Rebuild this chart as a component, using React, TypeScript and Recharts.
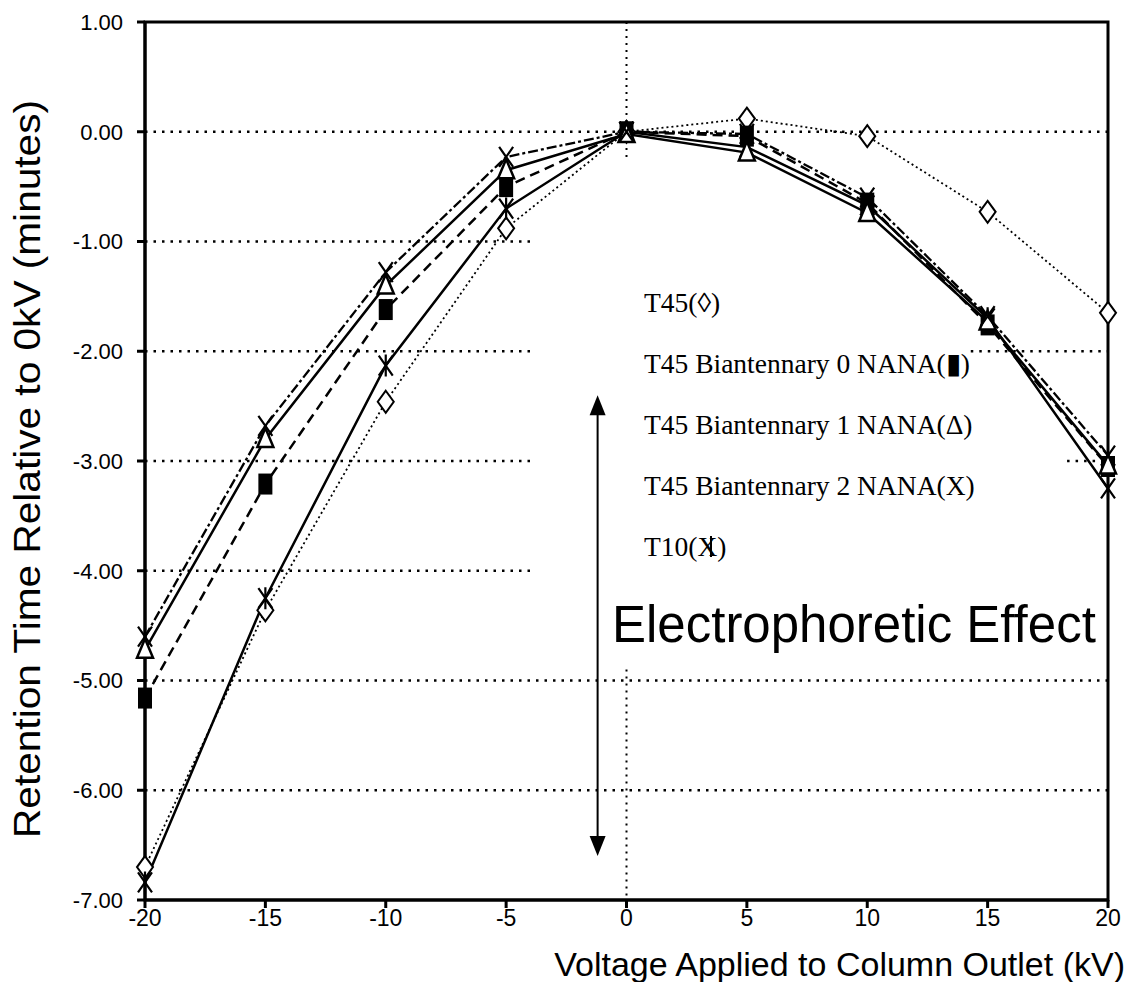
import React from "react";
import {
  LineChart,
  Line,
  XAxis,
  YAxis,
  ReferenceLine,
  ReferenceArea,
} from "recharts";

// kV applied at the column outlet
const voltages = [-20, -15, -10, -5, 0, 5, 10, 15, 20];

// retention time shift relative to 0 kV (minutes)
const t45 = [-6.7, -4.36, -2.46, -0.88, 0.0, 0.12, -0.04, -0.73, -1.65];
const bi0 = [-5.16, -3.21, -1.62, -0.5, 0.0, -0.04, -0.65, -1.76, -3.05];
const bi1 = [-4.72, -2.8, -1.4, -0.35, -0.02, -0.19, -0.74, -1.73, -3.04];
const bi2 = [-4.6, -2.68, -1.28, -0.23, 0.0, -0.02, -0.6, -1.68, -2.95];
const t10 = [-6.84, -4.25, -2.13, -0.7, 0.0, -0.14, -0.67, -1.7, -3.25];

const xTicks = [-20, -15, -10, -5, 0, 5, 10, 15, 20];
const yTicks = [1, 0, -1, -2, -3, -4, -5, -6, -7];

const legendLines = [
  "T45(\u25CA)",
  "T45 Biantennary 0 NANA(\u25AE)",
  "T45 Biantennary 1 NANA(\u0394)",
  "T45 Biantennary 2 NANA(X)",
  "T10(X)",
];

const data = voltages.map((v, i) => ({
  v,
  t45: t45[i],
  bi0: bi0[i],
  bi1: bi1[i],
  bi2: bi2[i],
  t10: t10[i],
}));

const sans = '"Liberation Sans", Arial, sans-serif';
const serif = '"Liberation Serif", "Times New Roman", serif';

// dotted grid, broken where the legend sits
const gridPieces = [
  [0, -20, 20],
  [-1, -20, -4],
  [-2, -20, -4],
  [-2, 14.3, 20],
  [-3, -20, -4],
  [-3, 18.3, 20],
  [-4, -20, -4],
  [-5, -20, 20],
  [-6, -20, 20],
];

const Diamond = (p: any) => {
  const { cx, cy, index } = p;
  if (cx == null || cy == null) return <g key={index} />;
  return (
    <path
      key={"d" + index}
      d={`M${cx},${cy - 11} L${cx + 8},${cy} L${cx},${cy + 11} L${cx - 8},${cy} Z`}
      fill="#fff"
      stroke="#000"
      strokeWidth={2}
    />
  );
};

const Square = (p: any) => {
  const { cx, cy, index } = p;
  if (cx == null || cy == null) return <g key={index} />;
  return <rect key={"s" + index} x={cx - 7} y={cy - 10.5} width={14} height={21} fill="#000" />;
};

const Triangle = (p: any) => {
  const { cx, cy, index } = p;
  if (cx == null || cy == null) return <g key={index} />;
  return (
    <path
      key={"t" + index}
      d={`M${cx},${cy - 11} L${cx + 8},${cy + 8} L${cx - 8},${cy + 8} Z`}
      fill="#fff"
      stroke="#000"
      strokeWidth={2.5}
    />
  );
};

const Cross = (p: any) => {
  const { cx, cy, index } = p;
  if (cx == null || cy == null) return <g key={index} />;
  return (
    <path
      key={"x" + index}
      d={`M${cx - 7},${cy - 10} L${cx + 7},${cy + 10} M${cx + 7},${cy - 10} L${cx - 7},${cy + 10}`}
      stroke="#000"
      strokeWidth={2.2}
      fill="none"
    />
  );
};

const Star = (p: any) => {
  const { cx, cy, index } = p;
  if (cx == null || cy == null) return <g key={index} />;
  return (
    <path
      key={"k" + index}
      d={`M${cx - 7},${cy - 10} L${cx + 7},${cy + 10} M${cx + 7},${cy - 10} L${cx - 7},${cy + 10} M${cx},${cy - 11} L${cx},${cy + 11}`}
      stroke="#000"
      strokeWidth={2.2}
      fill="none"
    />
  );
};

const Arrow = (p: any) => {
  const { x1, y1, x2, y2 } = p;
  if (x1 == null) return null;
  const top = Math.min(y1, y2);
  const bot = Math.max(y1, y2);
  return (
    <g>
      <line x1={x1} y1={top + 16} x2={x1} y2={bot - 16} stroke="#000" strokeWidth={2} />
      <path d={`M${x1},${top} L${x1 + 8},${top + 20} L${x1 - 8},${top + 20} Z`} fill="#000" />
      <path d={`M${x1},${bot} L${x1 + 8},${bot - 20} L${x1 - 8},${bot - 20} Z`} fill="#000" />
    </g>
  );
};

export default function App() {
  return (
    <div style={{ position: "absolute", left: 0, top: 0, width: 1128, height: 982, background: "#fff" }}>
      <LineChart
        width={1128}
        height={982}
        data={data}
        margin={{ top: 22, right: 20, bottom: 0, left: 0 }}
      >
        <XAxis
          dataKey="v"
          type="number"
          domain={[-20, 20]}
          ticks={xTicks}
          interval={0}
          height={82}
          axisLine={{ stroke: "#000", strokeWidth: 3 }}
          tickLine={{ stroke: "#000", strokeWidth: 3 }}
          tickSize={8}
          tickMargin={2}
          tick={{ fill: "#000", fontSize: 23, fontFamily: sans }}
        />
        <YAxis
          type="number"
          domain={[-7, 1]}
          ticks={yTicks}
          interval={0}
          width={145}
          axisLine={{ stroke: "#000", strokeWidth: 3 }}
          tickLine={{ stroke: "#000", strokeWidth: 3 }}
          tickSize={8}
          tickMargin={14}
          tickFormatter={(v: number) => v.toFixed(2)}
          tick={{ fill: "#000", fontSize: 22, fontFamily: sans }}
        />

        {gridPieces.map(([y, a, b], i) => (
          <ReferenceLine
            key={"g" + i}
            segment={[
              { x: a, y },
              { x: b, y },
            ]}
            stroke="#000"
            strokeWidth={2.5}
            strokeDasharray="2.5 6"
          />
        ))}
        <ReferenceLine
          segment={[
            { x: 0, y: 1 },
            { x: 0, y: -0.25 },
          ]}
          stroke="#000"
          strokeWidth={2}
          strokeDasharray="2 5"
        />
        <ReferenceLine
          segment={[
            { x: 0, y: -4.9 },
            { x: 0, y: -7 },
          ]}
          stroke="#000"
          strokeWidth={2}
          strokeDasharray="2 5"
        />
        <ReferenceArea
          x1={-20}
          x2={20}
          y1={-7}
          y2={1}
          fill="none"
          fillOpacity={0}
          stroke="#000"
          strokeWidth={3}
        />
        <ReferenceLine
          segment={[
            { x: -1.2, y: -2.4 },
            { x: -1.2, y: -6.6 },
          ]}
          shape={Arrow}
        />

        <Line
          dataKey="t45"
          stroke="#000"
          strokeWidth={1.8}
          strokeDasharray="2 3"
          dot={Diamond}
          isAnimationActive={false}
        />
        <Line
          dataKey="t10"
          stroke="#000"
          strokeWidth={2.5}
          dot={Star}
          isAnimationActive={false}
        />
        <Line
          dataKey="bi0"
          stroke="#000"
          strokeWidth={2.5}
          strokeDasharray="10 6"
          dot={Square}
          isAnimationActive={false}
        />
        <Line
          dataKey="bi1"
          stroke="#000"
          strokeWidth={2.5}
          dot={Triangle}
          isAnimationActive={false}
        />
        <Line
          dataKey="bi2"
          stroke="#000"
          strokeWidth={2.3}
          strokeDasharray="10 3 3 3"
          dot={Cross}
          isAnimationActive={false}
        />
      </LineChart>

      <svg
        width={1128}
        height={982}
        style={{ position: "absolute", left: 0, top: 0, pointerEvents: "none" }}
      >
        <text
          transform="translate(40,469) rotate(-90)"
          textAnchor="middle"
          fontFamily={sans}
          fontSize={36}
          textLength={738}
          lengthAdjust="spacingAndGlyphs"
          fill="#000"
        >
          Retention Time Relative to 0kV (minutes)
        </text>
        <text
          x={1125}
          y={976}
          textAnchor="end"
          fontFamily={sans}
          fontSize={34}
          fill="#000"
        >
          Voltage Applied to Column Outlet (kV)
        </text>
        {legendLines.map((t, i) => (
          <text key={t} x={644} y={312 + i * 61} fontFamily={serif} fontSize={27.5} fill="#000">
            {t}
          </text>
        ))}
        {/* vertical stroke across the X of the T10 key */}
        <line x1={711} y1={536} x2={711} y2={557} stroke="#000" strokeWidth={2} />
        <text x={612} y={642} fontFamily={sans} fontSize={51} fill="#000">
          Electrophoretic Effect
        </text>
      </svg>
    </div>
  );
}
